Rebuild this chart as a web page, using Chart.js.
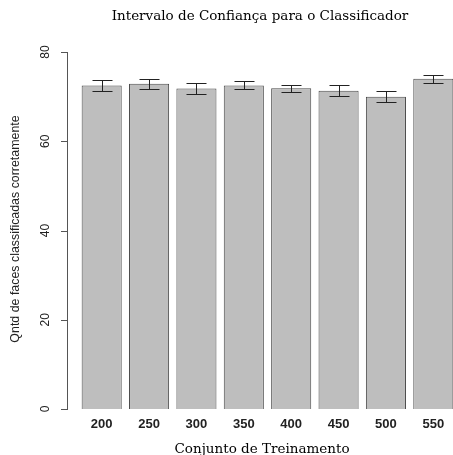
<!DOCTYPE html>
<html>
<head>
<meta charset="utf-8">
<script src="https://cdn.jsdelivr.net/npm/chart.js@4/dist/chart.umd.min.js"></script>
<style>
  html, body { margin: 0; padding: 0; background: #fff; overflow: hidden; }
  #wrap { width: 460px; height: 455px; }
</style>
</head>
<body>
<div id="wrap"><canvas id="chart" width="460" height="455"></canvas></div>
<script>
// training set sizes
var labels = ['200', '250', '300', '350', '400', '450', '500', '550'];
// mean of correctly classified faces
var means = [72.5, 72.9, 71.8, 72.5, 71.9, 71.3, 70.0, 74.0];
// confidence interval bounds
var lower = [71.3, 71.7, 70.6, 71.6, 71.0, 70.1, 68.7, 73.1];
var upper = [73.7, 74.0, 73.0, 73.4, 72.7, 72.5, 71.3, 74.8];
var yTicks = [0, 20, 40, 60, 80];

var sansFont = '"Liberation Sans", Arial, sans-serif';
var serifFont = '"DejaVu Serif", "Liberation Serif", serif';

// draws the R-style y axis, error bars and titles
var extras = {
  id: 'extras',
  afterDatasetsDraw: function(chart) {
    var ctx = chart.ctx;
    var y = chart.scales.y;
    var x = chart.scales.x;
    var axisX = 67;

    ctx.save();
    // y axis
    ctx.strokeStyle = '#555';
    ctx.lineWidth = 1;
    ctx.beginPath();
    ctx.moveTo(axisX + 0.5, y.getPixelForValue(yTicks[0]));
    ctx.lineTo(axisX + 0.5, y.getPixelForValue(yTicks[yTicks.length - 1]));
    yTicks.forEach(function(t) {
      var py = Math.round(y.getPixelForValue(t)) + 0.5;
      ctx.moveTo(axisX - 6, py);
      ctx.lineTo(axisX + 1, py);
    });
    ctx.stroke();

    ctx.fillStyle = '#222';
    ctx.font = '12px ' + sansFont;
    ctx.textAlign = 'center';
    ctx.textBaseline = 'middle';
    yTicks.forEach(function(t) {
      ctx.save();
      ctx.translate(46, y.getPixelForValue(t));
      ctx.rotate(-Math.PI / 2);
      ctx.fillText(String(t), 0, 0);
      ctx.restore();
    });

    // y axis title
    ctx.save();
    ctx.font = '12.4px ' + sansFont;
    ctx.translate(16, 229);
    ctx.rotate(-Math.PI / 2);
    ctx.fillText('Qntd de faces classificadas corretamente', 0, 0);
    ctx.restore();

    // error bars
    ctx.strokeStyle = '#222';
    ctx.lineWidth = 1;
    for (var i = 0; i < labels.length; i++) {
      var cx = Math.round(x.getPixelForValue(i)) + 0.5;
      var lo = Math.round(y.getPixelForValue(lower[i])) + 0.5;
      var hi = Math.round(y.getPixelForValue(upper[i])) + 0.5;
      ctx.beginPath();
      ctx.moveTo(cx, lo);
      ctx.lineTo(cx, hi);
      ctx.moveTo(cx - 10, lo);
      ctx.lineTo(cx + 10, lo);
      ctx.moveTo(cx - 10, hi);
      ctx.lineTo(cx + 10, hi);
      ctx.stroke();
    }

    // titles
    ctx.fillStyle = '#000';
    ctx.font = '13.5px ' + serifFont;
    ctx.textBaseline = 'middle';
    ctx.fillText('Intervalo de Confiança para o Classificador', 260, 16);
    ctx.fillText('Conjunto de Treinamento', 262, 449);
    ctx.restore();
  }
};

var ctx = document.getElementById('chart').getContext('2d');

var myChart = new Chart(ctx, {
  type: 'bar',
  data: {
    labels: labels,
    datasets: [{
      data: means,
      backgroundColor: '#bebebe',
      borderColor: '#4a4a4a',
      borderWidth: 1,
      barPercentage: 0.846,
      categoryPercentage: 1
    }]
  },
  options: {
    responsive: false,
    animation: false,
    layout: { padding: { left: 78, right: 3, top: 52, bottom: 0 } },
    plugins: {
      legend: { display: false },
      tooltip: { enabled: false }
    },
    scales: {
      x: {
        grid: { display: false, drawTicks: false },
        border: { display: false },
        ticks: {
          color: '#222',
          padding: 8,
          font: { family: sansFont, size: 13, weight: 'bold' }
        },
        afterFit: function(scale) { scale.height = 46; }
      },
      y: {
        display: false,
        min: 0,
        max: 80
      }
    }
  },
  plugins: [extras]
});
</script>
</body>
</html>
